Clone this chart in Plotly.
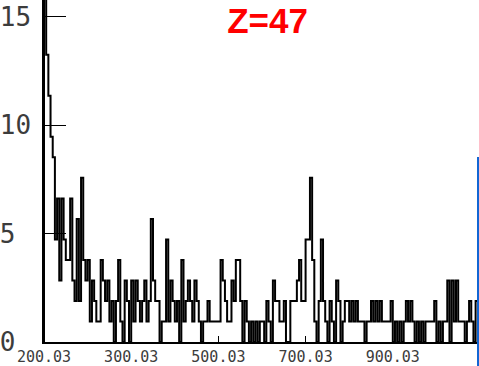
import numpy as np
import plotly.graph_objects as go

# Channel binning of the spectrum
bin_start = 200.0
bin_width = 5.0
bin_weight = 0.946  # weight applied to each count

# Counts per channel bin (199 bins)
counts = [
    17, 14, 12, 10, 9, 5, 7, 3, 7, 5,
    4, 4, 7, 3, 2, 6, 2, 8, 4, 3,
    4, 1, 3, 2, 1, 1, 4, 3, 2, 3,
    1, 2, 0, 2, 4, 1, 0, 3, 2, 0,
    3, 1, 3, 2, 1, 2, 3, 1, 2, 6,
    3, 2, 2, 0, 1, 1, 5, 1, 3, 2,
    1, 2, 0, 4, 1, 2, 3, 2, 1, 3,
    2, 1, 0, 1, 1, 2, 1, 1, 1, 1,
    1, 4, 3, 2, 1, 1, 3, 2, 4, 4,
    2, 0, 2, 1, 0, 1, 0, 1, 0, 1,
    1, 0, 2, 1, 0, 3, 2, 2, 1, 1,
    2, 0, 0, 2, 2, 2, 3, 4, 2, 2,
    5, 5, 8, 4, 1, 0, 2, 5, 2, 1,
    0, 2, 1, 0, 3, 2, 0, 1, 2, 2,
    1, 2, 1, 2, 1, 1, 1, 0, 1, 1,
    2, 1, 2, 1, 2, 1, 1, 1, 1, 2,
    0, 1, 0, 1, 0, 1, 2, 1, 2, 1,
    0, 1, 0, 1, 0, 1, 1, 1, 1, 2,
    0, 1, 0, 1, 1, 3, 0, 3, 1, 3,
    1, 1, 1, 0, 1, 2, 1, 0, 2,
]

x_tick_vals = [200, 400, 600, 800, 1000]
x_tick_text = ["200.03", "300.03", "500.03", "700.03", "900.03"]
y_tick_vals = [0, 5, 10, 15]
y_tick_text = ["0\u00a0", "5\u00a0", "10", "15"]

n = len(counts)
edges = bin_start + bin_width * np.arange(n + 1)
weighted = np.asarray(counts, dtype=float) * bin_weight

# step outline: start on the baseline, then one level per bin
xs = np.concatenate([[edges[0]], edges])
ys = np.concatenate([[0.0], weighted, [weighted[-1]]])

fig = go.Figure()
fig.add_trace(go.Scatter(
    x=xs, y=ys, mode="lines", line_shape="hv",
    line=dict(color="black", width=2), showlegend=False,
    hoverinfo="skip",
))

tick_font_x = dict(family="DejaVu Sans Mono", size=15, color="#3c3c3c")
tick_font_y = dict(family="DejaVu Sans Mono", size=26, color="#3c3c3c")

fig.update_layout(
    width=479, height=366,
    margin=dict(l=40, r=1, t=0, b=24, pad=0),
    paper_bgcolor="white", plot_bgcolor="white",
    title=dict(
        text="<b>Z=47</b>",
        font=dict(family="Liberation Sans", size=35, color="#ff0000"),
        x=267.5 / 479, xanchor="center", xref="container",
        y=1 - 20.5 / 366, yanchor="middle", yref="container",
    ),
    xaxis=dict(
        range=[bin_start, edges[0] + 438 * 200 / 88],
        showgrid=False, zeroline=False,
        showline=True, linecolor="black", linewidth=1.5,
        ticks="inside", ticklen=6, tickwidth=1, tickcolor="black",
        tickvals=x_tick_vals, ticktext=x_tick_text,
        tickfont=tick_font_x,
    ),
    yaxis=dict(
        range=[0, 15.77],
        showgrid=False, zeroline=False,
        showline=True, linecolor="black", linewidth=1.5,
        ticks="inside", ticklen=22, tickwidth=1, tickcolor="black",
        tickvals=y_tick_vals, ticktext=y_tick_text,
        tickfont=tick_font_y, ticklabelstandoff=6,
    ),
    shapes=[dict(
        type="line", xref="paper", yref="paper",
        x0=1, x1=1, y0=(342 - 157) / 342, y1=-24 / 342,
        line=dict(color="#1166d4", width=2),
    )],
)

fig.write_html("out.html")
